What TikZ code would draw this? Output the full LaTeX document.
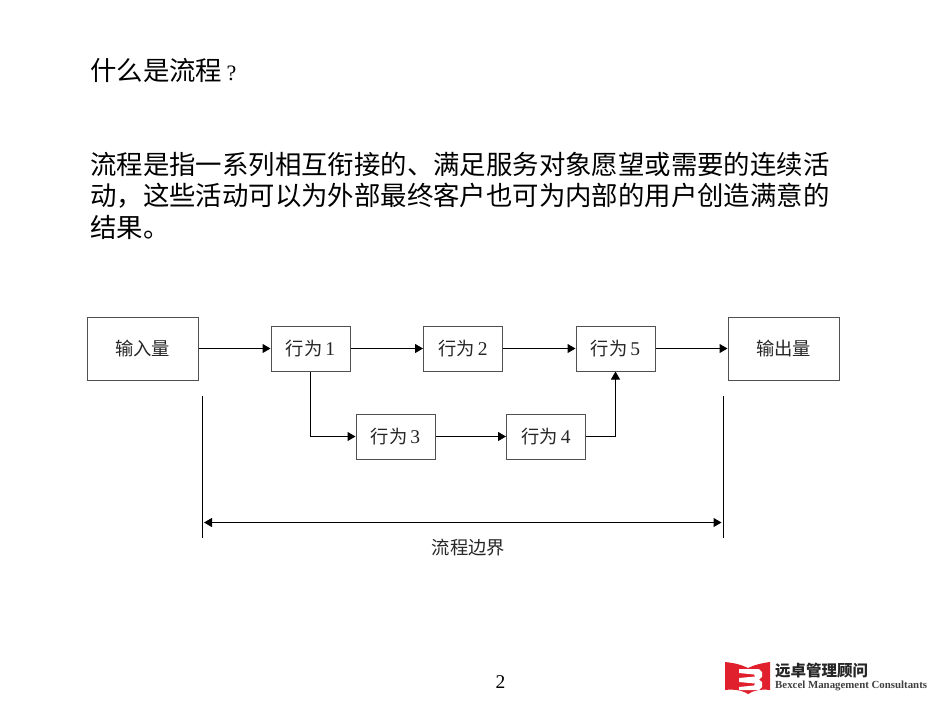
\documentclass[tikz,border=0pt]{standalone}
\usepackage{fontspec}
\setmainfont{Liberation Serif}
\newfontfamily\cjk{Noto Sans CJK SC}
\usetikzlibrary{arrows.meta}
\definecolor{boxline}{HTML}{505050}
\definecolor{logored}{HTML}{E0202C}
\tikzset{
  flowbox/.style={draw=boxline,line width=1pt,fill=white,inner sep=0pt,font=\cjk\fontsize{18.3}{20}\selectfont,text=black!85},
  wide/.style={minimum width=111pt,minimum height=63pt},
  act/.style={minimum width=79pt,minimum height=45pt},
  conn/.style={draw=black,line width=1pt,-{Triangle[length=8pt,width=9pt]}},
  bound/.style={draw=black,line width=0.9pt},
  bodytext/.style={anchor=west,inner sep=0pt,font=\cjk\fontsize{26.4}{30}\selectfont,text=black}
}
\newcommand{\actlabel}[1]{行为\,{\rmfamily\fontsize{19.5}{20}\selectfont #1}}
\begin{document}
\begin{tikzpicture}[x=1pt,y=-1pt]
\useasboundingbox (0,0) rectangle (950,713);
\node[bodytext] (title) at (90,70) {什么是流程\,{\rmfamily\fontsize{22}{24}\selectfont ?}};
\node[bodytext] (l1) at (90,164) {流程是指一系列相互衔接的、满足服务对象愿望或需要的连续活};
\node[bodytext] (l2) at (90,196) {动，这些活动可以为外部最终客户也可为内部的用户创造满意的};
\node[bodytext] (l3) at (90,227) {结果。};

\node[flowbox,wide] (in) at (142.5,348.5) {输入量};
\node[flowbox,act] (a1) at (310.5,348.5) {\actlabel{1}};
\node[flowbox,act] (a2) at (463,348.5) {\actlabel{2}};
\node[flowbox,act] (a5) at (615.5,348.5) {\actlabel{5}};
\node[flowbox,wide] (out) at (783.5,348.5) {输出量};
\node[flowbox,act] (a3) at (395.5,436.5) {\actlabel{3}};
\node[flowbox,act] (a4) at (546,436.5) {\actlabel{4}};

\draw[conn] (in) -- (a1);
\draw[conn] (a1) -- (a2);
\draw[conn] (a2) -- (a5);
\draw[conn] (a5) -- (out);
\draw[conn] (a3) -- (a4);
\draw[conn] (a1.south) |- (a3.west);
\draw[conn] (a4.east) -| (a5.south);

\coordinate (lt) at (202.5,396);
\coordinate (lb) at (202.5,538);
\coordinate (rt) at (723.5,396);
\coordinate (rb) at (723.5,538);
\coordinate (sl) at (204,522.5);
\coordinate (sr) at (721.5,522.5);
\draw[bound] (lt) -- (lb);
\draw[bound] (rt) -- (rb);
\draw[conn,{Triangle[length=8pt,width=9pt]}-{Triangle[length=8pt,width=9pt]}] (sl) -- (sr);
\node[inner sep=0pt,font=\cjk\fontsize{18.3}{20}\selectfont,text=black!85] (bl) at (468.5,547.5) {流程边界};

\node[inner sep=0pt,font=\fontsize{19.5}{20}\selectfont] (pg) at (500.5,682.5) {2};

% logo
\fill[logored] (725,662) .. controls (735,663) and (742,665) .. (748,668) .. controls (754,665) and (762,663) .. (770,662)
  -- (770,690) .. controls (762,689) and (754,690) .. (748,694) .. controls (742,690) and (733,689) .. (725,690) -- cycle;
\fill[white] (739,669) -- (759,669) -- (762,672) -- (762,677) -- (759,679.5) -- (762,682) -- (762,687) -- (759,690) -- (739,690)
  -- (739,687) -- (754,685.5) -- (755,683.5) -- (739,682) -- (739,678) -- (755,676.5) -- (754,674.5) -- (739,673) -- cycle;
\node[anchor=west,inner sep=0pt,font=\cjk\bfseries\fontsize{15.5}{17}\selectfont,text=black!85] (cn) at (775,670.5) {远卓管理顾问};
\node[anchor=west,inner sep=0pt,font=\bfseries\fontsize{10.85}{12}\selectfont,text=black!75] (en) at (775,685.5) {Bexcel Management Consultants};
\end{tikzpicture}
\end{document}
